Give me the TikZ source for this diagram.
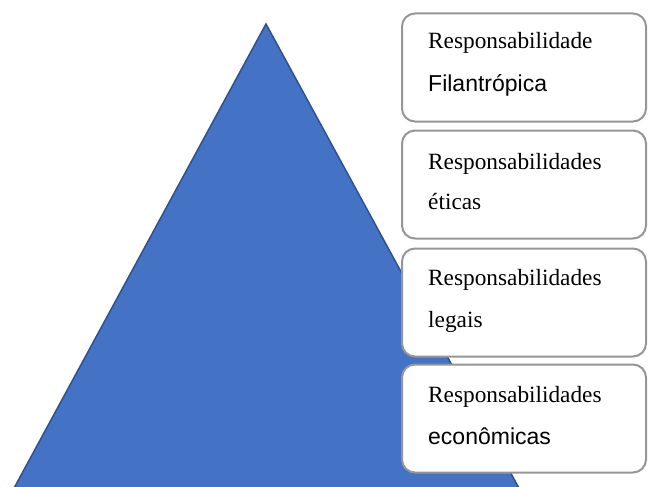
\documentclass[tikz,border=0pt]{standalone}
\usepackage{fontspec}
\setmainfont{Liberation Serif}
\newfontfamily\arialf{Liberation Sans}
\definecolor{triblue}{HTML}{4472C4}
\definecolor{triedge}{HTML}{2F528F}
\definecolor{boxgray}{RGB}{150,150,150}
\tikzset{
  respbox/.style={draw=boxgray, line width=2pt, fill=white, rounded corners=13pt,
    minimum width=244pt, minimum height=108pt, inner sep=0pt},
  serift/.style={anchor=base west, inner sep=0pt, font=\fontsize{23.3}{27}\selectfont},
  sanst/.style={anchor=base west, inner sep=0pt, font=\arialf\fontsize{23}{27}\selectfont}
}
\begin{document}
\begin{tikzpicture}[x=1pt,y=-1pt]
\useasboundingbox (0,0) rectangle (648,487);
\begin{scope}
\clip (0,0) rectangle (648,487);
\coordinate (apex) at (266,24);
\coordinate (bl) at (13,490);
\coordinate (br) at (520,490);
\draw[fill=triblue, draw=triedge, line width=1.5pt, line join=miter] (apex) -- (bl) -- (br) -- cycle;
\node[respbox] (b1) at (524,67.5) {};
\node[respbox] (b2) at (524,184.5) {};
\node[respbox] (b3) at (524,302.5) {};
\node[respbox] (b4) at (524,418.5) {};
\end{scope}
\node[serift] (t1a) at (428,49) {Responsabilidade};
\node[sanst]  (t1b) at (428,92) {Filantrópica};
\node[serift] (t2a) at (428,169) {Responsabilidades};
\node[serift] (t2b) at (428,209) {éticas};
\node[serift] (t3a) at (428,285) {Responsabilidades};
\node[serift] (t3b) at (428,327) {legais};
\node[serift] (t4a) at (428,402) {Responsabilidades};
\node[sanst]  (t4b) at (428,444) {econômicas};
\end{tikzpicture}
\end{document}
